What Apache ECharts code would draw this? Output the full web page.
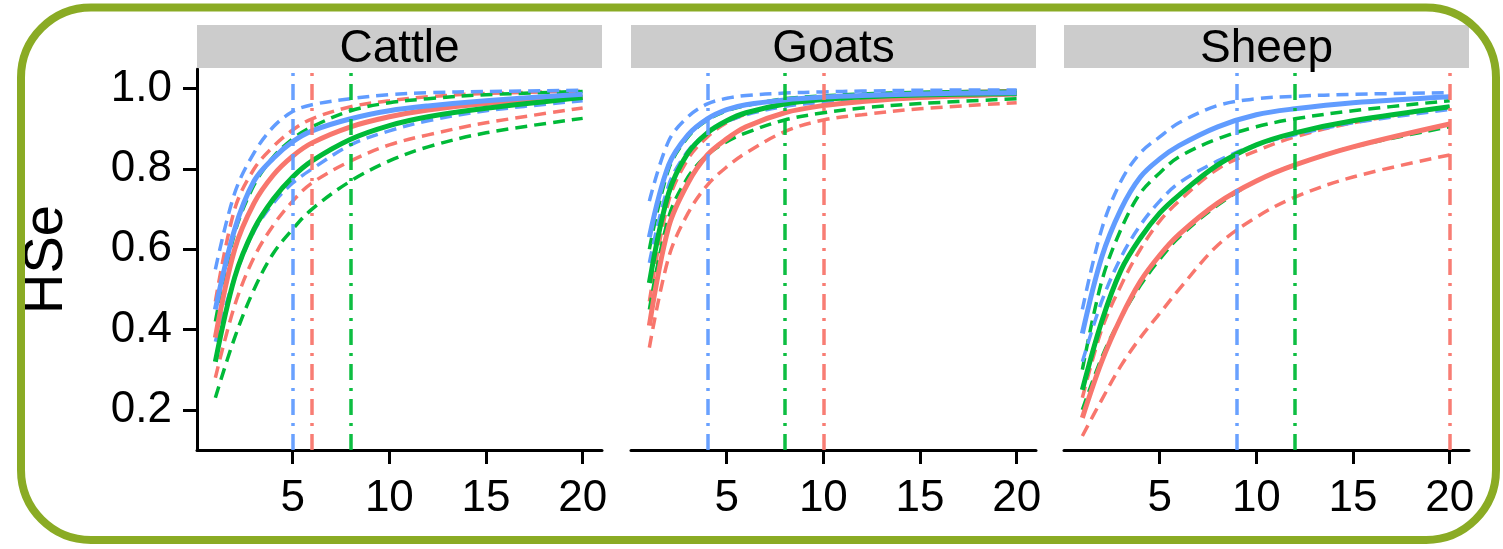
<!DOCTYPE html>
<html>
<head>
<meta charset="utf-8">
<script src="https://cdn.jsdelivr.net/npm/echarts@6/dist/echarts.min.js"></script>
<style>
html,body{margin:0;padding:0;background:#fff;}
#chart{width:1503px;height:549px;}
</style>
</head>
<body>
<div id="chart"></div>
<script>
// ---------- data ----------
const species = ['Cattle', 'Goats', 'Sheep'];
const xs = [1, 2, 3, 4, 5, 6, 8, 10, 12, 15, 20];
const xTicks = [5, 10, 15, 20];
const yTicks = [0.2, 0.4, 0.6, 0.8, 1.0];

// Cattle
const cattleBlue    = [0.45, 0.65, 0.77, 0.827, 0.868, 0.895, 0.925, 0.945, 0.957, 0.97, 0.986];
const cattleBlueHi  = [0.55, 0.74, 0.84, 0.905, 0.943, 0.96, 0.975, 0.985, 0.99, 0.993, 0.996];
const cattleBlueLo  = [0.37, 0.53, 0.645, 0.715, 0.765, 0.80, 0.86, 0.895, 0.92, 0.945, 0.97];
const cattleRed     = [0.38, 0.60, 0.715, 0.785, 0.832, 0.865, 0.905, 0.93, 0.947, 0.963, 0.98];
const cattleRedHi   = [0.47, 0.70, 0.80, 0.856, 0.897, 0.925, 0.955, 0.97, 0.98, 0.988, 0.994];
const cattleRedLo   = [0.28, 0.46, 0.58, 0.66, 0.72, 0.765, 0.82, 0.86, 0.885, 0.915, 0.952];
const cattleGreen   = [0.32, 0.53, 0.65, 0.725, 0.78, 0.82, 0.874, 0.908, 0.93, 0.951, 0.978];
const cattleGreenHi = [0.42, 0.64, 0.76, 0.83, 0.875, 0.905, 0.945, 0.965, 0.975, 0.985, 0.993];
const cattleGreenLo = [0.23, 0.38, 0.50, 0.59, 0.65, 0.70, 0.77, 0.82, 0.855, 0.89, 0.926];
const cattleVLines  = [5, 6, 8];   // blue, red, green

// Goats
const goatsBlue    = [0.63, 0.81, 0.885, 0.925, 0.948, 0.96, 0.972, 0.979, 0.983, 0.987, 0.99];
const goatsBlueHi  = [0.72, 0.87, 0.93, 0.962, 0.976, 0.983, 0.989, 0.992, 0.994, 0.996, 0.997];
const goatsBlueLo  = [0.566, 0.76, 0.845, 0.89, 0.918, 0.935, 0.956, 0.966, 0.973, 0.98, 0.985];
const goatsRed     = [0.41, 0.656, 0.765, 0.835, 0.875, 0.905, 0.94, 0.958, 0.968, 0.978, 0.987];
const goatsRedHi   = [0.47, 0.72, 0.825, 0.88, 0.915, 0.937, 0.965, 0.978, 0.985, 0.99, 0.995];
const goatsRedLo   = [0.355, 0.58, 0.69, 0.76, 0.805, 0.84, 0.893, 0.922, 0.935, 0.95, 0.965];
const goatsGreen   = [0.516, 0.74, 0.84, 0.89, 0.92, 0.94, 0.962, 0.973, 0.979, 0.984, 0.988];
const goatsGreenHi = [0.60, 0.80, 0.88, 0.922, 0.945, 0.958, 0.975, 0.982, 0.987, 0.991, 0.994];
const goatsGreenLo = [0.45, 0.68, 0.78, 0.835, 0.868, 0.89, 0.922, 0.94, 0.952, 0.963, 0.975];
const goatsVLines  = [4, 10, 8];   // blue, red, green

// Sheep
const sheepBlue    = [0.39, 0.58, 0.70, 0.78, 0.825, 0.858, 0.905, 0.935, 0.95, 0.965, 0.98];
const sheepBlueHi  = [0.45, 0.65, 0.77, 0.84, 0.88, 0.915, 0.958, 0.975, 0.981, 0.986, 0.99];
const sheepBlueLo  = [0.32, 0.47, 0.58, 0.66, 0.72, 0.765, 0.82, 0.86, 0.885, 0.915, 0.948];
const sheepRed     = [0.18, 0.32, 0.43, 0.52, 0.585, 0.637, 0.715, 0.77, 0.81, 0.855, 0.912];
const sheepRedHi   = [0.23, 0.40, 0.51, 0.60, 0.67, 0.72, 0.80, 0.845, 0.88, 0.915, 0.955];
const sheepRedLo   = [0.135, 0.225, 0.31, 0.38, 0.44, 0.50, 0.61, 0.68, 0.73, 0.78, 0.835];
const sheepGreen   = [0.25, 0.42, 0.548, 0.628, 0.69, 0.735, 0.81, 0.86, 0.89, 0.92, 0.955];
const sheepGreenHi = [0.30, 0.52, 0.65, 0.74, 0.79, 0.83, 0.875, 0.905, 0.925, 0.945, 0.97];
const sheepGreenLo = [0.20, 0.33, 0.43, 0.51, 0.575, 0.63, 0.71, 0.77, 0.81, 0.855, 0.905];
const sheepVLines  = [9, 20, 12];  // blue, red, green

// ---------- build ----------
const colors = { blue: '#619CFF', red: '#F8766D', green: '#00BA38' };
const colorOrder = ['red', 'green', 'blue'];
const panels = [
  { blue: [cattleBlue, cattleBlueHi, cattleBlueLo], red: [cattleRed, cattleRedHi, cattleRedLo], green: [cattleGreen, cattleGreenHi, cattleGreenLo], vl: cattleVLines },
  { blue: [goatsBlue, goatsBlueHi, goatsBlueLo], red: [goatsRed, goatsRedHi, goatsRedLo], green: [goatsGreen, goatsGreenHi, goatsGreenLo], vl: goatsVLines },
  { blue: [sheepBlue, sheepBlueHi, sheepBlueLo], red: [sheepRed, sheepRedHi, sheepRedLo], green: [sheepGreen, sheepGreenHi, sheepGreenLo], vl: sheepVLines }
];
const gridLefts = [197, 631, 1064];
const gridWidth = 405;
const gridTop = 69, gridBottomY = 450;
const FONT = '"Liberation Sans", Arial, Helvetica, sans-serif';

const grids = [], xAxes = [], yAxes = [], series = [], graphics = [];

graphics.push({
  type: 'rect', z: 100,
  shape: { x: 21, y: 7.5, width: 1475, height: 532.5, r: 70 },
  style: { fill: 'none', stroke: '#8aab24', lineWidth: 8 }
});

panels.forEach((p, i) => {
  grids.push({ left: gridLefts[i], top: gridTop, width: gridWidth, height: gridBottomY - gridTop, containLabel: false });
  xAxes.push({
    type: 'value', gridIndex: i, min: 0.05, max: 21.0,
    axisLine: { show: true, onZero: false, lineStyle: { color: '#000', width: 3 } },
    axisTick: { show: true, length: 14, lineStyle: { color: '#000', width: 3 }, customValues: xTicks },
    axisLabel: { show: true, color: '#000', fontSize: 44, fontFamily: FONT, margin: 27, customValues: xTicks },
    splitLine: { show: false }
  });
  yAxes.push({
    type: 'value', gridIndex: i, min: 0.1, max: 1.049,
    show: i === 0,
    name: i === 0 ? 'HSe' : '',
    nameLocation: 'middle', nameGap: 122,
    nameTextStyle: { color: '#000', fontSize: 56, fontFamily: FONT },
    axisLine: { show: true, lineStyle: { color: '#000', width: 3 } },
    axisTick: { show: true, length: 14, lineStyle: { color: '#000', width: 3 }, customValues: yTicks },
    axisLabel: { show: true, color: '#000', fontSize: 44, fontFamily: FONT, margin: 25, customValues: yTicks,
      formatter: v => v.toFixed(1) },
    splitLine: { show: false }
  });

  // strip
  graphics.push({
    type: 'rect', z: 50,
    shape: { x: gridLefts[i], y: 25, width: gridWidth, height: 43 },
    style: { fill: '#cccccc' }
  });
  graphics.push({
    type: 'text', z: 51,
    x: gridLefts[i] + gridWidth / 2, y: 49,
    style: { text: species[i], fill: '#000', font: '46px ' + FONT, textAlign: 'center', textVerticalAlign: 'middle' }
  });

  // vertical dot-dash lines
  const vlColors = ['blue', 'red', 'green'];
  p.vl.forEach((v, k) => {
    series.push({
      type: 'line', xAxisIndex: i, yAxisIndex: i, data: [], silent: true, z: 1,
      markLine: {
        silent: true, symbol: ['none', 'none'], label: { show: false },
        lineStyle: { color: colors[vlColors[k]], width: 3.5, type: [16, 8, 3, 8], opacity: 0.95 },
        data: [{ xAxis: v }],
        animation: false
      }
    });
  });

  // dashed CIs then solid curves
  colorOrder.forEach(c => {
    const [mid, hi, lo] = p[c];
    [hi, lo].forEach(arr => {
      series.push({
        type: 'line', xAxisIndex: i, yAxisIndex: i, z: 2,
        data: xs.map((x, j) => [x, arr[j]]),
        showSymbol: false, smooth: 0.35,
        lineStyle: { color: colors[c], width: 3.5, type: [12, 7] },
        silent: true
      });
    });
  });
  colorOrder.forEach(c => {
    const mid = p[c][0];
    series.push({
      type: 'line', xAxisIndex: i, yAxisIndex: i, z: 3,
      data: xs.map((x, j) => [x, mid[j]]),
      showSymbol: false, smooth: 0.35,
      lineStyle: { color: colors[c], width: 5 },
      silent: true
    });
  });
});

const chart = echarts.init(document.getElementById('chart'), null, { renderer: 'canvas' });
chart.setOption({
  animation: false,
  backgroundColor: '#ffffff',
  grid: grids, xAxis: xAxes, yAxis: yAxes, series: series, graphic: graphics
});
</script>
</body>
</html>
